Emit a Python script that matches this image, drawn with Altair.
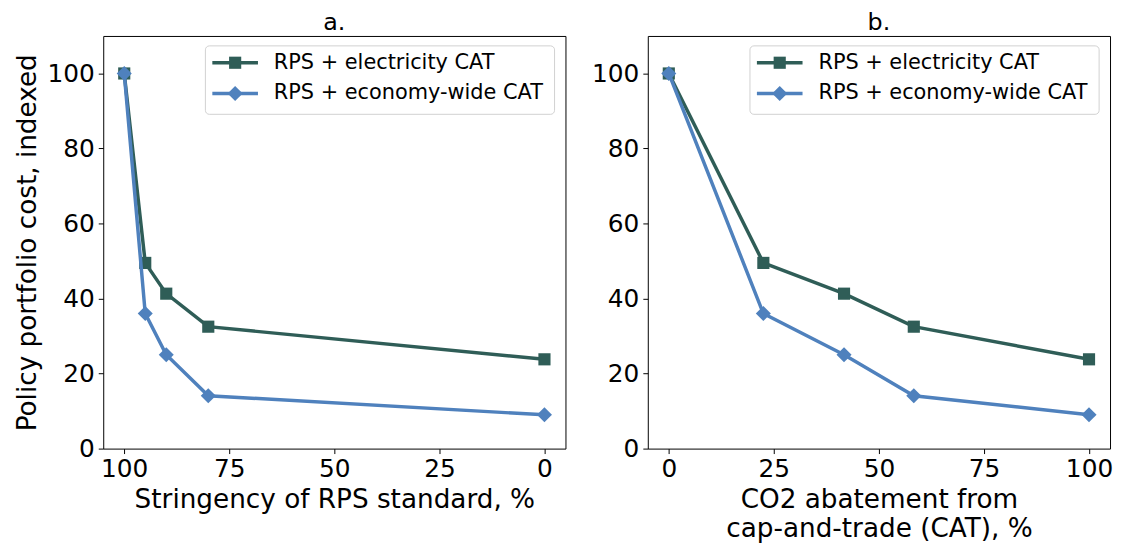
import altair as alt
import pandas as pd

series = ["RPS + electricity CAT", "RPS + economy-wide CAT"]
rps_stringency = [100, 95, 90, 80, 0]
cat_abatement = [0, 22.5, 41.7, 58.3, 100]
cost_electricity = [100, 49.5, 41.3, 32.5, 23.8]
cost_economy = [100, 36.0, 25.0, 14.1, 9.0]

colors = ["#2f5d57", "#4f81bd"]
shapes = ["square", "diamond"]

rows = []
for i in range(len(rps_stringency)):
    rows.append({"series": series[0], "rps": rps_stringency[i], "cat": cat_abatement[i], "cost": cost_electricity[i], "order": i})
    rows.append({"series": series[1], "rps": rps_stringency[i], "cat": cat_abatement[i], "cost": cost_economy[i], "order": i})
df = pd.DataFrame(rows)

FONT = "DejaVu Sans"
W, H = 466, 416
TICK_FS = 25
TITLE_FS = 26.5

ycommon = alt.Y("cost:Q", scale=alt.Scale(domain=[0, 110], nice=False, zero=False),
                axis=alt.Axis(values=[0, 20, 40, 60, 80, 100], grid=False, domain=False,
                              tickColor="black", tickSize=5, labelFontSize=TICK_FS, labelColor="black",
                              labelFont=FONT, titleFont=FONT, titleFontSize=TITLE_FS, titleColor="black",
                              titleFontWeight="normal", labelPadding=4, titlePadding=6))


def legend_layers():
    layers = []
    frame = alt.Chart(pd.DataFrame({"a": [0]})).mark_rect(
        fill="white", stroke="#d0d0d0", strokeWidth=1, cornerRadius=4
    ).encode(x=alt.value(103), x2=alt.value(455), y=alt.value(10), y2=alt.value(79))
    layers.append(frame)
    ys = [27, 58]
    for i, s in enumerate(series):
        rule = alt.Chart(pd.DataFrame({"a": [0]})).mark_rule(color=colors[i], strokeWidth=3.5).encode(
            x=alt.value(110), x2=alt.value(156), y=alt.value(ys[i]))
        pt = alt.Chart(pd.DataFrame({"a": [0]})).mark_point(
            shape=shapes[i], filled=True, color=colors[i], size=150 if i == 0 else 230, opacity=1).encode(
            x=alt.value(133), y=alt.value(ys[i]))
        txt = alt.Chart(pd.DataFrame({"t": [s]})).mark_text(
            align="left", baseline="middle", fontSize=21, font=FONT, color="black").encode(
            x=alt.value(172), y=alt.value(ys[i]), text="t:N")
        layers += [rule, pt, txt]
    return layers


def panel(xfield, xscale, xtitle, ytitle, title):
    base = alt.Chart(df)
    y = ycommon.title(ytitle) if ytitle else ycommon.title(None)
    xenc = alt.X(f"{xfield}:Q", scale=xscale,
                 axis=alt.Axis(values=[0, 25, 50, 75, 100], grid=False, domain=False,
                               tickColor="black", tickSize=5, labelFontSize=TICK_FS, labelColor="black",
                               labelFont=FONT, titleFont=FONT, titleFontSize=TITLE_FS, titleColor="black",
                               titleFontWeight="normal", labelPadding=3, titlePadding=5,
                               titleLineHeight=30),
                 title=xtitle)
    layers = []
    for i, s in enumerate(series):
        sub = base.transform_filter(alt.datum.series == s)
        line = sub.mark_line(color=colors[i], strokeWidth=3.5).encode(x=xenc, y=y, order="order:Q")
        pts = sub.mark_point(shape=shapes[i], filled=True, color=colors[i],
                             size=150 if i == 0 else 230, opacity=1).encode(x=xenc, y=y)
        layers += [line, pts]
    layers += legend_layers()
    return alt.layer(*layers).properties(
        width=W, height=H,
        title=alt.TitleParams(title, fontSize=24, font=FONT, fontWeight="normal", color="black", offset=1))


pa = panel("rps", alt.Scale(domain=[-5, 105], nice=False, zero=False, reverse=True),
           "Stringency of RPS standard, %", "Policy portfolio cost, indexed", "a.")
pb = panel("cat", alt.Scale(domain=[-5, 105], nice=False, zero=False),
           ["CO2 abatement from", "cap-and-trade (CAT), %"], None, "b.")

chart = alt.hconcat(
    pa, pb, spacing=24, background="white",
    padding={"left": 5, "top": 0, "right": 0, "bottom": 0}
).configure_view(stroke="black", strokeWidth=1)

chart.save("out.html", embed_options={"renderer": "svg", "actions": False})
